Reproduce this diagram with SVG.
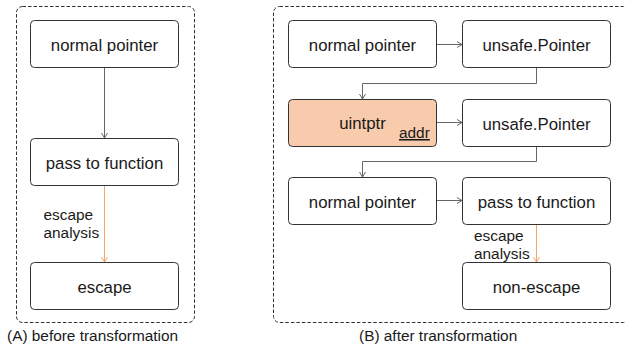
<svg xmlns="http://www.w3.org/2000/svg" width="626" height="349" viewBox="0 0 626 349">
<defs>
<style>
.panel{fill:none;stroke:#333;stroke-width:1;stroke-dasharray:3.5,2}
.box{fill:#fff;stroke:#333;stroke-width:1}
.hi{fill:#f7cbab;stroke:#333;stroke-width:1}
.t{font-family:"Liberation Sans",Arial,sans-serif;font-size:16.8px;fill:#1a1a1a;text-anchor:middle}
.lbl{font-family:"Liberation Sans",Arial,sans-serif;font-size:15.4px;fill:#1a1a1a}
.cap{font-family:"Liberation Sans",Arial,sans-serif;font-size:15.4px;fill:#1a1a1a}
.ln{fill:none;stroke:#666;stroke-width:1;marker-end:url(#ag)}
.or{fill:none;stroke:#f5a46a;stroke-width:1;marker-end:url(#ao)}
</style>
<marker id="ag" markerWidth="8" markerHeight="8" refX="6" refY="4" orient="auto" markerUnits="userSpaceOnUse">
<path d="M1,1 L6,4 L1,7" fill="none" stroke="#666" stroke-width="1"/>
</marker>
<marker id="ao" markerWidth="8" markerHeight="8" refX="6" refY="4" orient="auto" markerUnits="userSpaceOnUse">
<path d="M1,1 L6,4 L1,7" fill="none" stroke="#f5a46a" stroke-width="1"/>
</marker>
</defs>
<rect width="626" height="349" fill="#fff"/>
<g id="panelA">
<rect class="panel" x="16.5" y="6.5" width="178" height="316" rx="6"/>
<text class="cap" x="7" y="341">(A) before transformation</text>
</g>
<g id="panelB">
<rect class="panel" x="273.5" y="6.5" width="356" height="316" rx="6"/>
<text class="cap" x="359" y="341">(B) after transformation</text>
</g>
<g id="connectors">
<path class="ln" d="M104.5,68 V138"/>
<path class="or" d="M104.5,185 V262"/>
<path class="ln" d="M437,44.5 H462"/>
<path class="ln" d="M536.5,68 V83.5 H362.5 V99"/>
<path class="ln" d="M437,122.5 H462"/>
<path class="ln" d="M536.5,146 V161.5 H362.5 V177"/>
<path class="ln" d="M437,200.5 H462"/>
<path class="or" d="M536.5,224 V262"/>
<text class="lbl" x="43.5" y="220">escape</text>
<text class="lbl" x="43.5" y="238">analysis</text>
<text class="lbl" x="474" y="241">escape</text>
<text class="lbl" x="474" y="259">analysis</text>
</g>
<g id="a_normal"><rect class="box" x="30.5" y="20.5" width="148" height="47" rx="4"/><text class="t" x="104.5" y="51">normal pointer</text></g>
<g id="a_pass"><rect class="box" x="30.5" y="138.5" width="148" height="47" rx="4"/><text class="t" x="104.5" y="169">pass to function</text></g>
<g id="a_escape"><rect class="box" x="30.5" y="262.5" width="148" height="47" rx="4"/><text class="t" x="104.5" y="293">escape</text></g>
<g id="b_normal1"><rect class="box" x="288.5" y="20.5" width="148" height="47" rx="4"/><text class="t" x="362.5" y="51">normal pointer</text></g>
<g id="b_unsafe1"><rect class="box" x="462.5" y="20.5" width="148" height="47" rx="4"/><text class="t" x="536.5" y="51">unsafe.Pointer</text></g>
<g id="b_uintptr"><rect class="hi" x="288.5" y="99.5" width="148" height="47" rx="4"/><text class="t" x="362.5" y="129">uintptr</text><text class="lbl" x="399" y="138" font-size="14px" text-decoration="underline">addr</text></g>
<g id="b_unsafe2"><rect class="box" x="462.5" y="99.5" width="148" height="47" rx="4"/><text class="t" x="536.5" y="130">unsafe.Pointer</text></g>
<g id="b_normal2"><rect class="box" x="288.5" y="177.5" width="148" height="47" rx="4"/><text class="t" x="362.5" y="208">normal pointer</text></g>
<g id="b_pass"><rect class="box" x="462.5" y="177.5" width="148" height="47" rx="4"/><text class="t" x="536.5" y="208">pass to function</text></g>
<g id="b_nonescape"><rect class="box" x="462.5" y="262.5" width="148" height="47" rx="4"/><text class="t" x="536.5" y="293">non-escape</text></g>
</svg>
